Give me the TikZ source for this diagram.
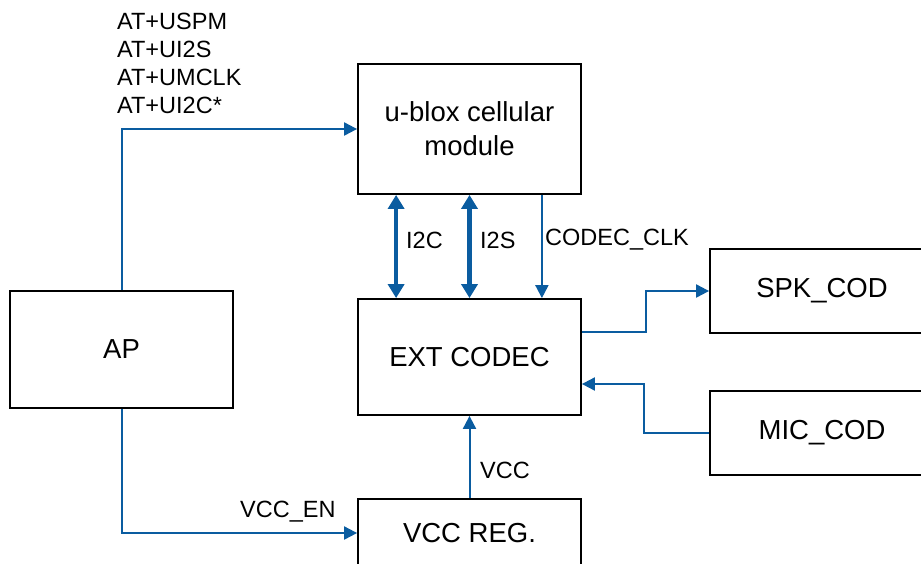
\documentclass[tikz,border=0pt]{standalone}
\usepackage{fontspec}
\setmainfont{Liberation Sans}
\usetikzlibrary{arrows.meta}
\definecolor{lineblue}{RGB}{10,92,160}
\tikzset{
  blk/.style={draw=black, line width=1.8pt, inner sep=0pt, align=center, font=\fontsize{27.5}{34}\selectfont},
  lbl/.style={inner sep=0pt, anchor=west, font=\fontsize{23.5}{28}\selectfont},
  thin/.style={draw=lineblue, line width=2pt, -{Triangle[length=13pt,width=13pt]}},
  thick/.style={draw=lineblue, line width=4.5pt, {Triangle[length=14pt,width=16pt]}-{Triangle[length=14pt,width=16pt]}},
}
\begin{document}
\begin{tikzpicture}[x=1pt,y=-1pt]
\useasboundingbox (0,0) rectangle (921,563);
\clip (0,0) rectangle (921,563);
\node[blk, minimum width=223pt, minimum height=130pt] (ublox) at (469.5,129) {u-blox cellular\\module};
\node[blk, minimum width=223pt, minimum height=116pt] (codec) at (469.5,357) {EXT CODEC};
\node[blk, minimum width=223pt, minimum height=117pt] (ap) at (121.5,349.5) {AP};
\node[blk, minimum width=224pt, minimum height=84pt] (spk) at (822,291) {SPK\_COD};
\node[blk, minimum width=224pt, minimum height=84pt] (mic) at (822,433) {MIC\_COD};
\node[blk, minimum width=223pt, minimum height=68pt] (vreg) at (469.5,533) {VCC REG.};

\node[lbl] (at1) at (117,21) {AT+USPM};
\node[lbl] (at2) at (117,49) {AT+UI2S};
\node[lbl] (at3) at (117,77) {AT+UMCLK};
\node[lbl] (at4) at (117,105) {AT+UI2C*};

\draw[thin] (ap.north) |- (ublox.west);
\draw[thin] (ap.south) |- (vreg.west);
\draw[thin] (vreg.north) -- (codec.south);
\draw[thick] ([xshift=39pt]ublox.south west) -- ([xshift=39pt]codec.north west);
\draw[thick] (ublox.south) -- (codec.north);
\draw[thin] ([xshift=-40pt]ublox.south east) -- ([xshift=-40pt]codec.north east);
\draw[thin] ([yshift=25pt]codec.east) -- ++(64,0) |- (spk.west);
\draw[thin] (mic.west) -- ++(-65,0) |- ([yshift=-27pt]codec.east);

\node[lbl] (li2c) at (406,240) {I2C};
\node[lbl] (li2s) at (480,240) {I2S};
\node[lbl] (lclk) at (545,240) {CODEC\_CLK};
\node[lbl] (lvcc) at (480,470) {VCC};
\node[lbl] (lvcen) at (240,512) {VCC\_EN};
\end{tikzpicture}
\end{document}
